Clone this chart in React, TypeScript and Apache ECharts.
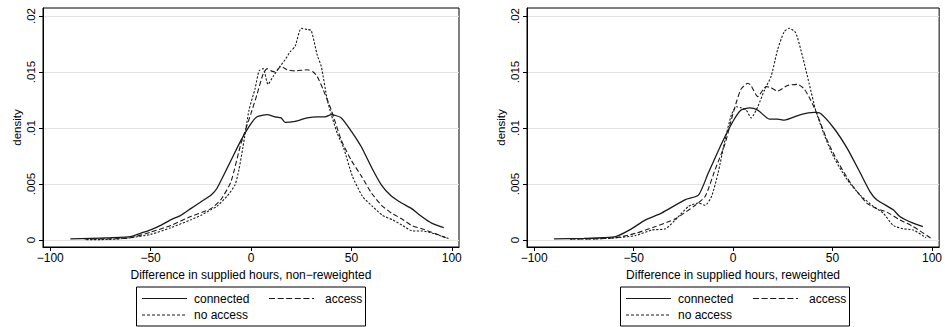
import React, { useEffect, useRef } from "react";
import * as echarts from "echarts";

const seriesNames = ["connected", "access", "no access"];
const xTicks = [-100, -50, 0, 50, 100];
const yTicks = [0, 0.005, 0.01, 0.015, 0.02];
const xTitles = [
  "Difference in supplied hours, non\u2212reweighted",
  "Difference in supplied hours, reweighted",
];
const yTitle = "density";

const leftConnected: [number, number][] = [
  [-90, 0.0001], [-80, 0.00015], [-70, 0.0002], [-60, 0.0003], [-55, 0.0006], [-50, 0.0009],
  [-45, 0.0013], [-40, 0.0018], [-35, 0.0022], [-30, 0.0028], [-25, 0.0034], [-20, 0.004],
  [-17, 0.0046], [-10, 0.0071], [-5, 0.0089], [0, 0.0104], [3, 0.011], [8, 0.0112], [12, 0.011],
  [15, 0.0109], [17, 0.0105], [22, 0.0106], [28, 0.0109], [33, 0.011], [37, 0.011], [40, 0.0112],
  [45, 0.0109], [50, 0.0097], [55, 0.0083], [60, 0.0065], [65, 0.0049], [70, 0.0039], [75, 0.0033],
  [80, 0.0028], [85, 0.0021], [90, 0.0015], [96, 0.0011],
];
const leftAccess: [number, number][] = [
  [-83, 0.0001], [-70, 0.0001], [-60, 0.0002], [-50, 0.0007], [-40, 0.0013], [-30, 0.0021],
  [-20, 0.0028], [-15, 0.0036], [-10, 0.0052], [-5, 0.0086], [0, 0.0113], [3, 0.013], [6, 0.0148],
  [8, 0.0153], [10, 0.0151], [12, 0.015], [15, 0.0155], [18, 0.0152], [22, 0.0151], [28, 0.0152],
  [31, 0.015], [33, 0.0146], [36, 0.0134], [40, 0.0116], [45, 0.0089], [50, 0.0071], [55, 0.0057],
  [60, 0.0042], [65, 0.0031], [70, 0.0024], [75, 0.0019], [80, 0.0013], [85, 0.001], [90, 0.0007],
  [97, 0.0002],
];
const leftNoAccess: [number, number][] = [
  [-82, 0.00003], [-70, 0.00005], [-60, 0.0002], [-50, 0.0005], [-40, 0.0011], [-30, 0.0018],
  [-25, 0.0022], [-20, 0.0027], [-17, 0.003], [-12, 0.0039], [-8, 0.0049], [-6, 0.0063],
  [-4, 0.0083], [-1, 0.0116], [2, 0.0135], [4, 0.0151], [6, 0.0153], [8.5, 0.0139], [11, 0.0146],
  [14, 0.0154], [17, 0.0161], [19.5, 0.0168], [22, 0.0173], [25, 0.0189], [28, 0.0188], [30, 0.0187],
  [33, 0.0165], [35, 0.0155], [38, 0.0125], [40, 0.0112], [43, 0.0095], [46, 0.0083], [50.5, 0.0057],
  [55.5, 0.0039], [60.5, 0.003], [65.5, 0.0022], [70.5, 0.0018], [75.5, 0.0013], [80.5, 0.0008],
  [85.5, 0.0008], [90.5, 0.0006], [99, 0.0001],
];

const rightConnected: [number, number][] = [
  [-90, 0.0001], [-75, 0.00015], [-65, 0.0002], [-59, 0.0003], [-52, 0.0009], [-44, 0.0018],
  [-36, 0.0024], [-24, 0.0036], [-17.4, 0.004], [-12.4, 0.006], [-5.8, 0.0086], [0, 0.0106],
  [4, 0.0116], [8.3, 0.0118], [12.4, 0.0116], [18.3, 0.0108], [22.4, 0.0108], [25.7, 0.0107],
  [34, 0.0112], [40.7, 0.0114], [44, 0.0113], [50.6, 0.01], [57.3, 0.0082], [63.9, 0.006],
  [68.9, 0.0043], [72.2, 0.0036], [80.5, 0.0027], [83.8, 0.0021], [90.5, 0.0015], [95.4, 0.0012],
];
const rightAccess: [number, number][] = [
  [-82, 0.0001], [-70, 0.0001], [-59, 0.0002], [-49, 0.0006], [-39, 0.0012], [-29, 0.0019],
  [-19, 0.0031], [-14, 0.0039], [-9, 0.0063], [-4, 0.0086], [-0.8, 0.0108], [2, 0.0125],
  [4.1, 0.0135], [7.5, 0.014], [9, 0.0138], [12.4, 0.0128], [16.6, 0.0137], [19, 0.0136],
  [22.4, 0.0133], [27.4, 0.0138], [32.4, 0.0139], [35.7, 0.0135], [39, 0.0125], [42.3, 0.0112],
  [47.3, 0.0089], [52.3, 0.0071], [59, 0.0051], [67.2, 0.0033], [72.2, 0.0028], [77.2, 0.0025],
  [83.8, 0.0018], [90.5, 0.0012], [100, 0.0001],
];
const rightNoAccess: [number, number][] = [
  [-82, 0.0001], [-70, 0.0001], [-59, 0.0002], [-49, 0.0004], [-40.7, 0.0009], [-34, 0.001],
  [-29, 0.0018], [-22.4, 0.003], [-17.4, 0.0033], [-14, 0.0031], [-10.8, 0.0039], [-7.5, 0.006],
  [-4.1, 0.0089], [-0.8, 0.0112], [1.7, 0.0119], [4.1, 0.0118], [6.6, 0.0116], [9.1, 0.0109],
  [12.4, 0.0119], [15.8, 0.0134], [19.1, 0.0146], [22.4, 0.017], [25.7, 0.0186], [28.2, 0.0189],
  [31.5, 0.0185], [34.9, 0.0164], [38.2, 0.014], [41.5, 0.0116], [45.6, 0.0095], [50.6, 0.0074],
  [57.3, 0.0054], [63.9, 0.004], [70.5, 0.003], [75.5, 0.0024], [80.5, 0.0013], [85.5, 0.001],
  [90.5, 0.0009], [97, 0.0002],
];

const panels = [
  [leftConnected, leftAccess, leftNoAccess],
  [rightConnected, rightAccess, rightNoAccess],
];

const FONT = "'Liberation Sans', Arial, Helvetica, sans-serif";
const INK = "#1a1a1a";
const dashes: (number[] | null)[] = [null, [5, 2.6], [2.2, 1.6]];
const legendDashes: (number[] | null)[] = [null, [6, 2.6], [3, 2]];

const fmtY = (v: number) => (v === 0 ? "0" : String(+v.toFixed(3)).replace(/^0/, ""));
const fmtX = (v: number) => (v < 0 ? "\u2212" + Math.abs(v) : String(v));

export default function App() {
  const ref = useRef<HTMLDivElement>(null);
  useEffect(() => {
    if (!ref.current) return;
    const chart = echarts.init(ref.current, null, { renderer: "svg" });
    const gridLefts = [43, 527];
    const grids = gridLefts.map((l) => ({
      left: l,
      top: 8,
      width: 416,
      height: 239,
      show: true,
      borderColor: "#000",
      borderWidth: 1,
      backgroundColor: "transparent",
    }));
    const xAxes = gridLefts.map((_, p) => ({
      type: "value",
      gridIndex: p,
      min: -103.6,
      max: 103.6,
      axisLine: { show: true, onZero: false, lineStyle: { color: "#000", width: 1 } },
      axisTick: { show: true, length: 4, customValues: xTicks, lineStyle: { color: "#000" } },
      axisLabel: { customValues: xTicks, formatter: fmtX, color: "#000", fontSize: 12, fontFamily: FONT, margin: 5 },
      splitLine: { show: false },
      name: xTitles[p],
      nameLocation: "middle",
      nameGap: 20,
      nameTextStyle: { color: "#000", fontSize: 12, fontFamily: FONT },
    }));
    const yAxes = gridLefts.map((_, p) => ({
      type: "value",
      gridIndex: p,
      min: -0.000625,
      max: 0.020714,
      axisLine: { show: true, onZero: false, lineStyle: { color: "#000", width: 1 } },
      axisTick: { show: true, length: 4, customValues: yTicks, lineStyle: { color: "#000" } },
      axisLabel: { customValues: yTicks, formatter: fmtY, rotate: 90, color: "#000", fontSize: 11.5, fontFamily: FONT, margin: 6 },
      splitLine: { show: true, lineStyle: { color: "#e2e2e2", width: 1 } },
      name: yTitle,
      nameLocation: "middle",
      nameGap: 20,
      nameRotate: 90,
      nameTextStyle: { color: "#000", fontSize: 11.5, fontFamily: FONT },
    }));
    const series: any[] = [];
    panels.forEach((sets, p) => {
      sets.forEach((d, i) => {
        series.push({
          type: "line",
          name: seriesNames[i],
          xAxisIndex: p,
          yAxisIndex: p,
          data: d,
          showSymbol: false,
          smooth: 0.2,
          lineStyle: { color: INK, width: i === 0 ? 1.3 : 1.1, type: dashes[i] ?? "solid" },
          z: 3 - i,
        });
      });
    });
    const graphic: any[] = [];
    [136, 620].forEach((lx) => {
      const ly = 286.5;
      graphic.push({
        type: "rect",
        shape: { x: lx + 0.5, y: ly + 0.5, width: 229, height: 39 },
        style: { fill: "#fff", stroke: "#000", lineWidth: 1 },
      });
      const items = [
        { sx: lx + 6, tx: lx + 58, y: ly + 12 },
        { sx: lx + 133, tx: lx + 189, y: ly + 12 },
        { sx: lx + 6, tx: lx + 58, y: ly + 28.5 },
      ];
      items.forEach((it, i) => {
        graphic.push({
          type: "line",
          shape: { x1: it.sx, y1: it.y, x2: it.sx + 45, y2: it.y },
          style: { stroke: INK, lineWidth: 1.1, lineDash: legendDashes[i] ?? undefined },
        });
        graphic.push({
          type: "text",
          x: it.tx,
          y: it.y,
          style: { text: seriesNames[i], fill: "#000", font: `12px ${FONT}`, verticalAlign: "middle", align: "left" },
        });
      });
    });
    chart.setOption({
      animation: false,
      backgroundColor: "#fff",
      grid: grids,
      xAxis: xAxes,
      yAxis: yAxes,
      series,
      graphic,
    });
    return () => chart.dispose();
  }, []);
  return (
    <div
      ref={ref}
      style={{ position: "fixed", left: 0, top: 0, width: 945, height: 327, background: "#fff" }}
    />
  );
}
